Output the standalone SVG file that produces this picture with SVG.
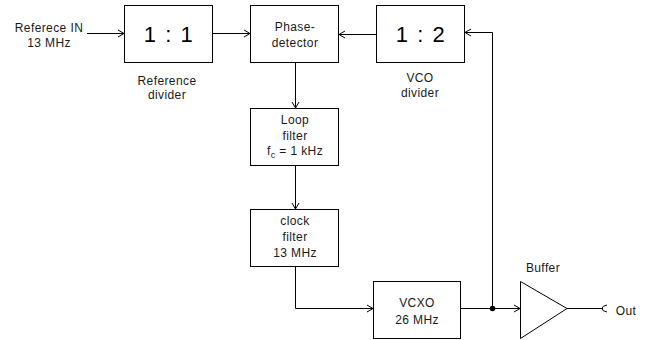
<svg xmlns="http://www.w3.org/2000/svg" width="660" height="340" viewBox="0 0 660 340">
<defs>
<marker id="arr" markerWidth="10" markerHeight="10" refX="8" refY="5" orient="auto" markerUnits="userSpaceOnUse">
<polyline points="2,1.5 8,5 2,8.5" fill="none" stroke="#000" stroke-width="1"/>
</marker>
</defs>
<style>
.box{fill:#fff;stroke:#000;stroke-width:1}
.t{font-family:"Liberation Sans",Arial,sans-serif;font-size:12px;letter-spacing:0.4px;fill:#1a1a1a;text-anchor:middle}
.big{font-family:"Liberation Sans",Arial,sans-serif;font-size:22px;letter-spacing:1.5px;fill:#000;text-anchor:middle}
.ln{fill:none;stroke:#000;stroke-width:1}
</style>
<rect width="660" height="340" fill="#fff"/>
<g id="input"><text class="t" x="49" y="32">Referece IN</text><text class="t" x="49" y="47">13 MHz</text></g>
<g id="refdiv"><rect class="box" x="124.5" y="5.5" width="88" height="57"/><text class="big" x="169" y="42">1 : 1</text>
<text class="t" x="167" y="85">Reference</text><text class="t" x="167" y="99">divider</text></g>
<g id="phase"><rect class="box" x="250.5" y="5.5" width="88" height="57"/><text class="t" x="295" y="31">Phase-</text><text class="t" x="295" y="47">detector</text></g>
<g id="vcodiv"><rect class="box" x="376.5" y="5.5" width="88" height="57"/><text class="big" x="421" y="42">1 : 2</text>
<text class="t" x="420" y="82">VCO</text><text class="t" x="420" y="97">divider</text></g>
<g id="loop"><rect class="box" x="250.5" y="108.5" width="88" height="57"/><text class="t" x="295" y="124">Loop</text><text class="t" x="295" y="140">filter</text><text class="t" x="295" y="155">f<tspan font-size="9" dy="3">c</tspan><tspan dy="-3"> = 1 kHz</tspan></text></g>
<g id="clock"><rect class="box" x="250.5" y="209.5" width="88" height="57"/><text class="t" x="295" y="225">clock</text><text class="t" x="295" y="241">filter</text><text class="t" x="295" y="257">13 MHz</text></g>
<g id="vcxo"><rect class="box" x="373.5" y="281.5" width="87" height="57"/><text class="t" x="417" y="307">VCXO</text><text class="t" x="417" y="324">26 MHz</text></g>
<g id="buffer"><polygon class="box" points="520.5,281.5 567,308.5 520.5,338.5"/><text class="t" x="543" y="272">Buffer</text></g>
<g id="out"><text class="t" x="626" y="315">Out</text></g>
<g id="connectors">
<line class="ln" x1="87" y1="33.5" x2="124" y2="33.5" marker-end="url(#arr)"/>
<line class="ln" x1="212.5" y1="33.5" x2="250" y2="33.5" marker-end="url(#arr)"/>
<line class="ln" x1="376.5" y1="34.5" x2="339" y2="34.5" marker-end="url(#arr)"/>
<line class="ln" x1="295.5" y1="62.5" x2="295.5" y2="108" marker-end="url(#arr)"/>
<line class="ln" x1="295.5" y1="165.5" x2="295.5" y2="209" marker-end="url(#arr)"/>
<polyline class="ln" points="295.5,266.5 295.5,308.5 373,308.5" marker-end="url(#arr)"/>
<line class="ln" x1="460.5" y1="308.5" x2="520" y2="308.5" marker-end="url(#arr)"/>
<polyline class="ln" points="492.5,308.5 492.5,32.5 465,32.5" marker-end="url(#arr)"/>
<circle cx="492.5" cy="308.5" r="2.8" fill="#000"/>
<line class="ln" x1="567" y1="308.5" x2="603" y2="308.5"/>
<path class="ln" d="M607,305 Q602,306 602,308.5 Q602,311 607,312"/>
</g>
</svg>
